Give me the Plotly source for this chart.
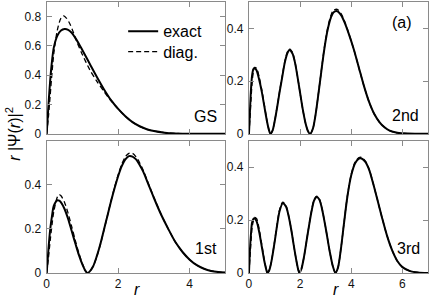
import plotly.graph_objects as go

# ---------------- data ----------------
gs_r_exact = [0, 0.05, 0.1, 0.15, 0.2, 0.3, 0.4, 0.5, 0.6, 0.7, 0.8, 0.9, 1.0, 1.2, 1.4, 1.6, 1.8,
              2.0, 2.2, 2.4, 2.6, 2.8, 3.0, 3.3, 3.6, 4.0, 4.5, 5.0]
gs_exact = [0, 0.2, 0.37, 0.5, 0.59, 0.67, 0.705, 0.715, 0.71, 0.69, 0.655, 0.615, 0.57, 0.48, 0.39,
            0.305, 0.23, 0.17, 0.12, 0.08, 0.052, 0.032, 0.019, 0.008, 0.003, 0.001, 0, 0]
gs_r_diag = [0, 0.05, 0.1, 0.15, 0.2, 0.3, 0.4, 0.47, 0.55, 0.65, 0.75, 0.85, 1.0, 1.2, 1.4, 1.6, 1.8,
             2.0, 2.2, 2.4, 2.6, 2.8, 3.0, 3.3, 3.6, 4.0, 4.5, 5.0]
gs_diag = [0, 0.12, 0.27, 0.42, 0.55, 0.71, 0.79, 0.805, 0.79, 0.75, 0.69, 0.625, 0.54, 0.44, 0.36,
           0.29, 0.225, 0.17, 0.12, 0.08, 0.051, 0.031, 0.018, 0.008, 0.003, 0.001, 0, 0]

st1_r = [0, 0.05, 0.1, 0.15, 0.2, 0.3, 0.35, 0.4, 0.5, 0.6, 0.7, 0.8, 0.9, 1.0, 1.08, 1.14, 1.2, 1.3,
         1.4, 1.5, 1.6, 1.7, 1.8, 1.9, 2.0, 2.1, 2.2, 2.3, 2.4, 2.5, 2.6, 2.7, 2.8, 2.9, 3.0, 3.2,
         3.4, 3.6, 3.8, 4.0, 4.2, 4.4, 4.6, 4.8, 5.0]
st1_exact = [0, 0.11, 0.2, 0.26, 0.305, 0.33, 0.328, 0.32, 0.29, 0.245, 0.19, 0.135, 0.082, 0.038,
             0.01, 0, 0.006, 0.03, 0.075, 0.13, 0.195, 0.26, 0.325, 0.385, 0.44, 0.485, 0.515,
             0.53, 0.528, 0.515, 0.49, 0.46, 0.42, 0.38, 0.34, 0.265, 0.2, 0.14, 0.095, 0.06,
             0.035, 0.019, 0.009, 0.004, 0.002]
st1_diag = [0, 0.07, 0.15, 0.22, 0.28, 0.345, 0.355, 0.35, 0.32, 0.27, 0.21, 0.148, 0.09, 0.042,
            0.012, 0, 0.006, 0.03, 0.073, 0.128, 0.193, 0.26, 0.327, 0.39, 0.446, 0.493, 0.527,
            0.543, 0.543, 0.527, 0.5, 0.466, 0.425, 0.383, 0.342, 0.266, 0.2, 0.14, 0.095, 0.06,
            0.035, 0.019, 0.009, 0.004, 0.002]

st2_r = [0, 0.04, 0.08, 0.12, 0.17, 0.22, 0.3, 0.4, 0.5, 0.6, 0.7, 0.78, 0.84, 0.92, 1.0, 1.1, 1.2,
         1.3, 1.4, 1.5, 1.58, 1.7, 1.8, 1.9, 2.0, 2.1, 2.2, 2.3, 2.39, 2.5, 2.6, 2.7, 2.8, 2.9, 3.0,
         3.1, 3.2, 3.3, 3.45, 3.6, 3.75, 3.9, 4.1, 4.3, 4.5, 4.7, 4.9, 5.1, 5.3, 5.5, 5.8, 6.2, 7.0]
st2_exact = [0, 0.09, 0.17, 0.22, 0.245, 0.25, 0.24, 0.205, 0.16, 0.105, 0.05, 0.015, 0, 0.012,
             0.045, 0.1, 0.16, 0.215, 0.27, 0.305, 0.318, 0.305, 0.27, 0.215, 0.155, 0.095, 0.045,
             0.012, 0, 0.02, 0.07, 0.14, 0.215, 0.29, 0.355, 0.405, 0.44, 0.46, 0.465, 0.45, 0.42,
             0.38, 0.32, 0.25, 0.18, 0.12, 0.075, 0.045, 0.025, 0.012, 0.004, 0.001, 0]
st2_diag = [0, 0.06, 0.13, 0.19, 0.235, 0.252, 0.248, 0.215, 0.168, 0.11, 0.053, 0.016, 0, 0.012,
            0.046, 0.102, 0.163, 0.219, 0.274, 0.31, 0.322, 0.309, 0.272, 0.216, 0.155, 0.095,
            0.045, 0.012, 0, 0.02, 0.07, 0.141, 0.217, 0.293, 0.36, 0.412, 0.448, 0.468, 0.472,
            0.456, 0.424, 0.382, 0.32, 0.25, 0.18, 0.12, 0.075, 0.045, 0.025, 0.012, 0.004, 0.001, 0]

st3_r = [0, 0.04, 0.08, 0.12, 0.18, 0.22, 0.3, 0.4, 0.5, 0.6, 0.67, 0.72, 0.8, 0.9, 1.0, 1.1, 1.2,
         1.32, 1.45, 1.55, 1.65, 1.75, 1.85, 1.92, 1.97, 2.05, 2.15, 2.3, 2.45, 2.55, 2.65, 2.75,
         2.85, 3.0, 3.15, 3.28, 3.38, 3.48, 3.6, 3.7, 3.85, 4.0, 4.15, 4.3, 4.4, 4.55, 4.7, 4.85,
         5.0, 5.2, 5.4, 5.6, 5.8, 6.0, 6.3, 6.6, 7.0]
st3_exact = [0, 0.09, 0.15, 0.19, 0.205, 0.207, 0.195, 0.155, 0.1, 0.045, 0.015, 0, 0.012, 0.055,
             0.115, 0.18, 0.235, 0.263, 0.25, 0.215, 0.165, 0.105, 0.048, 0.015, 0, 0.015, 0.06,
             0.15, 0.235, 0.275, 0.287, 0.278, 0.245, 0.17, 0.085, 0.025, 0, 0.02, 0.095, 0.175,
             0.29, 0.37, 0.415, 0.432, 0.433, 0.42, 0.39, 0.34, 0.285, 0.21, 0.14, 0.085, 0.045,
             0.022, 0.007, 0.002, 0]
st3_diag = [0, 0.06, 0.12, 0.17, 0.2, 0.21, 0.205, 0.165, 0.108, 0.05, 0.017, 0, 0.012, 0.056,
            0.118, 0.184, 0.24, 0.268, 0.254, 0.217, 0.166, 0.105, 0.048, 0.015, 0, 0.015, 0.06,
            0.151, 0.237, 0.278, 0.29, 0.28, 0.246, 0.17, 0.085, 0.025, 0, 0.02, 0.095, 0.176,
            0.292, 0.373, 0.419, 0.436, 0.437, 0.423, 0.392, 0.341, 0.285, 0.21, 0.14, 0.085,
            0.045, 0.022, 0.007, 0.002, 0]

panel_labels = ["GS", "2nd", "1st", "3rd"]
legend_names = ["exact", "diag."]

# ---------------- figure ----------------
W, H = 429, 307
fig = go.Figure()

def dx(a, b):
    return [a / W, b / W]

def dy(top, bottom):
    return [1 - bottom / H, 1 - top / H]

panels = [
    ("x", "y", dx(44, 224), dy(2, 137), [0, 5], [0, 0.9], [0, 2, 4], [0, 0.2, 0.4, 0.6, 0.8], False,
     gs_r_exact, gs_exact, gs_r_diag, gs_diag),
    ("x2", "y2", dx(247.7, 428), dy(2, 137), [0, 7], [0, 0.5], [0, 2, 4, 6], [0, 0.2, 0.4], False,
     st2_r, st2_exact, st2_r, st2_diag),
    ("x3", "y3", dx(44, 224), dy(144, 279.3), [0, 5], [0, 0.6], [0, 2, 4], [0, 0.2, 0.4], True,
     st1_r, st1_exact, st1_r, st1_diag),
    ("x4", "y4", dx(247.7, 428), dy(144, 279.3), [0, 7], [0, 0.5], [0, 2, 4, 6], [0, 0.2, 0.4], True,
     st3_r, st3_exact, st3_r, st3_diag),
]

frame = "#8a8a8a"
tickfont = dict(family="Liberation Sans, Arial, sans-serif", size=12, color="#111")
layout_axes = {}
for i, (xa, ya, xd, yd, xr, yr, xt, yt, xl, re_, ye_, rd_, yd_) in enumerate(panels):
    first = i == 0
    fig.add_trace(go.Scatter(x=re_, y=ye_, xaxis=xa, yaxis=ya, mode="lines",
                             line=dict(color="black", width=2, shape="spline", smoothing=0.8),
                             name=legend_names[0], showlegend=first, legend="legend"))
    fig.add_trace(go.Scatter(x=rd_, y=yd_, xaxis=xa, yaxis=ya, mode="lines",
                             line=dict(color="black", width=1.3, dash="5px,3px", shape="spline",
                                       smoothing=0.8),
                             name=legend_names[1], showlegend=first, legend="legend2"))
    xkey = "xaxis" if xa == "x" else "xaxis" + xa[1:]
    ykey = "yaxis" if ya == "y" else "yaxis" + ya[1:]
    layout_axes[xkey] = dict(domain=xd, range=xr, tickvals=xt, showticklabels=xl,
                             anchor=ya, showline=True, linecolor=frame, linewidth=1.2,
                             mirror="ticks", ticks="inside", ticklen=5, tickcolor=frame,
                             showgrid=False, zeroline=False, tickfont=tickfont, ticklabelstandoff=0)
    layout_axes[ykey] = dict(domain=yd, range=yr, tickvals=yt, anchor=xa, showline=True,
                             linecolor=frame, linewidth=1.2, mirror="ticks", ticks="inside",
                             ticklen=5, tickcolor=frame, showgrid=False, zeroline=False,
                             tickfont=tickfont, ticklabelstandoff=2)

fig.update_layout(**layout_axes)

lab_font = dict(family="Liberation Sans, Arial, sans-serif", size=16, color="black")
annos = [
    dict(text=panel_labels[0], x=218 / W, y=1 - 119 / H, xanchor="right", yanchor="middle"),
    dict(text=panel_labels[1], x=421 / W, y=1 - 118.5 / H, xanchor="right", yanchor="middle"),
    dict(text=panel_labels[2], x=217.5 / W, y=1 - 254 / H, xanchor="right", yanchor="middle"),
    dict(text=panel_labels[3], x=421.5 / W, y=1 - 254.5 / H, xanchor="right", yanchor="middle"),
    dict(text="(a)", x=414 / W, y=1 - 23 / H, xanchor="right", yanchor="middle"),
    dict(text="<i>r</i>", x=134.5 / W, y=1 - 296 / H, xanchor="center", yanchor="middle"),
    dict(text="<i>r</i>", x=335.5 / W, y=1 - 296 / H, xanchor="center", yanchor="middle"),
    dict(text="<i>r</i> |Ψ(<i>r</i>)|<sup>2</sup>", x=10 / W, y=1 - 137 / H, textangle=-90,
         xanchor="center", yanchor="middle"),
]
for a in annos:
    fig.add_annotation(xref="paper", yref="paper", showarrow=False, font=lab_font, **a)

leg_font = dict(family="Liberation Sans, Arial, sans-serif", size=16, color="black")
fig.update_layout(
    width=W, height=H, margin=dict(l=0, r=0, t=0, b=0),
    plot_bgcolor="white", paper_bgcolor="white",
    legend=dict(x=121 / W, y=1 - 32 / H, xanchor="left", yanchor="middle", font=leg_font,
                bgcolor="rgba(0,0,0,0)", itemwidth=30),
    legend2=dict(x=121 / W, y=1 - 53 / H, xanchor="left", yanchor="middle", font=leg_font,
                 bgcolor="rgba(0,0,0,0)", itemwidth=30),
)

fig.write_html("out.html", config={"displayModeBar": False},
               post_script="document.body.style.margin='0';document.body.style.overflow='hidden';")
